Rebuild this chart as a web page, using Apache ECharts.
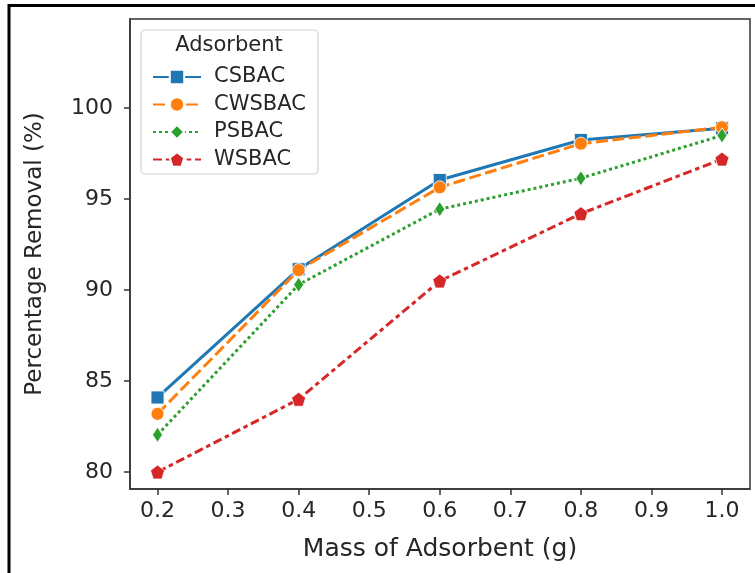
<!DOCTYPE html>
<html>
<head>
<meta charset="utf-8">
<script src="https://cdn.jsdelivr.net/npm/echarts@6/dist/echarts.min.js"></script>
<style>
    html, body { margin: 0; padding: 0; background: #fff; }
    #chart { width: 755px; height: 573px; }
</style>
</head>
<body>
<div id="chart"></div>
<script>
// 数据
var masses = [0.2, 0.4, 0.6, 0.8, 1.0];
var csbac = [84.1, 91.15, 96.05, 98.25, 98.9];
var cwsbac = [83.2, 91.1, 95.65, 98.05, 98.95];
var psbac = [82.05, 90.3, 94.45, 96.15, 98.5];
var wsbac = [80.0, 84.0, 90.5, 94.2, 97.2];
var xTicks = [0.2, 0.3, 0.4, 0.5, 0.6, 0.7, 0.8, 0.9, 1.0];
var yTicks = [80, 85, 90, 95, 100];

window.onload = function () {
    var myChart = echarts.init(document.getElementById("chart"));
    var font = "DejaVu Sans";
    var pentagon = "path://M0,-1 L0.951,-0.309 L0.588,0.809 L-0.588,0.809 L-0.951,-0.309 Z";

    function pairs(ys) {
        return masses.map(function (x, i) { return [x, ys[i]]; });
    }

    // 每条线的样式
    function makeSeries(name, ys, color, dash, symbol, size) {
        return {
            name: name,
            type: "line",
            data: pairs(ys),
            symbol: symbol,
            symbolSize: size,
            lineStyle: { color: color, width: 3, type: dash },
            itemStyle: { color: color, borderColor: "#fff", borderWidth: 0.8 },
            emphasis: { disabled: true },
            animation: false
        };
    }

    var option = {
        textStyle: { fontFamily: font },
        grid: {
            left: 130, right: 5, top: 19, bottom: 84,
            show: true, borderColor: "#333", borderWidth: 1.5
        },
        // 外框
        graphic: [
            { type: "line", shape: { x1: 9, y1: 5.5, x2: 755, y2: 5.5 }, style: { stroke: "#000", lineWidth: 3 } },
            { type: "line", shape: { x1: 9, y1: 4, x2: 9, y2: 573 }, style: { stroke: "#000", lineWidth: 3 } },
            // 图例框
            {
                type: "rect", z: 5,
                shape: { x: 141, y: 30, width: 177, height: 144, r: 4 },
                style: { fill: "rgba(255,255,255,0.9)", stroke: "#d0d0d0", lineWidth: 1.2 }
            },
            {
                type: "text", z: 6, x: 229, y: 46,
                style: { text: "Adsorbent", font: "21px DejaVu Sans", fill: "#262626", align: "center", verticalAlign: "middle" }
            }
        ],
        legend: {
            orient: "vertical",
            left: 147, top: 61,
            z: 7,
            itemWidth: 48, itemHeight: 18, itemGap: 5.5,
            textStyle: { fontSize: 21, color: "#262626", fontFamily: font, padding: [0, 0, 0, 8], lineHeight: 22 },
            data: ["CSBAC", "CWSBAC", "PSBAC", "WSBAC"]
        },
        xAxis: {
            type: "value",
            min: 0.161, max: 1.0397,
            name: "Mass of Adsorbent (g)",
            nameLocation: "middle",
            nameGap: 48,
            nameTextStyle: { fontSize: 25, color: "#262626", fontFamily: font, verticalAlign: "top" },
            axisLine: { show: true, lineStyle: { color: "#333", width: 1.5 } },
            axisTick: { show: true, length: 6, lineStyle: { color: "#333", width: 1.5 }, customValues: xTicks },
            axisLabel: {
                fontSize: 22, color: "#262626", margin: 11, fontFamily: font,
                customValues: xTicks,
                formatter: function (v) { return v.toFixed(1); }
            },
            splitLine: { show: false }
        },
        yAxis: {
            type: "value",
            min: 79.07, max: 104.9,
            name: "Percentage Removal (%)",
            nameLocation: "middle",
            nameGap: 83,
            nameTextStyle: { fontSize: 23, color: "#262626", fontFamily: font },
            axisLine: { show: true, lineStyle: { color: "#333", width: 1.5 } },
            axisTick: { show: true, length: 6, lineStyle: { color: "#333", width: 1.5 }, customValues: yTicks },
            axisLabel: {
                fontSize: 22, color: "#262626", margin: 17, fontFamily: font,
                customValues: yTicks
            },
            splitLine: { show: false }
        },
        series: [
            makeSeries("CSBAC", csbac, "#1f77b4", "solid", "rect", 13),
            makeSeries("CWSBAC", cwsbac, "#ff7f0e", [12, 4.5], "circle", 13),
            makeSeries("PSBAC", psbac, "#2ca02c", [3, 3], "diamond", [10, 15]),
            makeSeries("WSBAC", wsbac, "#d62728", [9, 3.75, 4.5, 3.75], pentagon, 14)
        ]
    };

    myChart.setOption(option);
    window.addEventListener("resize", function () {
        myChart.resize();
    });
};
</script>
</body>
</html>
